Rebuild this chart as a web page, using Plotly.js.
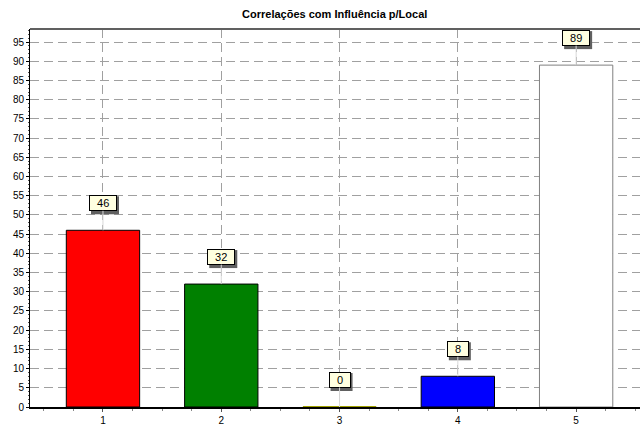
<!DOCTYPE html>
<html><head><meta charset="utf-8">
<script src="https://cdn.plot.ly/plotly-3.0.1.min.js"></script>
<style>html,body{margin:0;padding:0;background:#fff}#chart{width:640px;height:426px}</style>
</head><body><div id="chart"></div>
<script>
const categories = [1, 2, 3, 4, 5];
const values = [46, 32, 0, 8, 89];
const barColors = ['#ff0000', '#008000', '#a0a000', '#0000ff', '#ffffff'];
const barLineColors = ['#000000', '#000000', '#a0a000', '#000000', '#808080'];
const yTicks = [0,5,10,15,20,25,30,35,40,45,50,55,60,65,70,75,80,85,90,95];

const trace = {
  type: 'bar', x: categories, y: values, width: 0.62,
  marker: {color: barColors, line: {color: barLineColors, width: values.map(v => v === 0 ? 2 : 1)}},
  hoverinfo: 'none'
};

const LIFT = 27;
const labelFont = {family: 'Liberation Sans, Arial', size: 11, color: '#000'};
const labels = categories.map((c, i) => ({
  x: c, y: values[i], xref: 'x', yref: 'y', text: '&nbsp;&nbsp;' + values[i] + '&nbsp;&nbsp;',
  showarrow: true, arrowhead: 0, arrowcolor: '#d8d8d8', arrowwidth: 1,
  ax: 0, ay: -LIFT, bgcolor: '#ffffe0', bordercolor: '#000000', borderwidth: 1, borderpad: 1,
  font: labelFont
}));
const shadows = categories.map((c, i) => {
  const w = 6 * String(values[i]).length + 16;
  return {type: 'rect', layer: 'above', xref: 'x', yref: 'y', xsizemode: 'pixel', ysizemode: 'pixel',
    xanchor: c, yanchor: values[i], x0: -w / 2 + 2, x1: w / 2 + 2, y0: LIFT - 9 - 2, y1: LIFT + 9 - 2,
    fillcolor: '#606060', line: {width: 0}};
});

const layout = {
  width: 640, height: 426,
  margin: {l: 30, r: 0, t: 29, b: 19},
  paper_bgcolor: '#fff', plot_bgcolor: '#fff',
  title: {text: '<b>Correlações com Influência p/Local</b>', x: 0.523, xanchor: 'center', y: 0.967, yanchor: 'middle',
    font: {family: 'Liberation Sans, Arial', size: 11, color: '#000'}},
  showlegend: false,
  bargap: 0,
  xaxis: {range: [0.383, 5.54], tickvals: categories, ticktext: categories.map(String),
    showgrid: true, gridcolor: '#a0a0a0', griddash: '9px,5px', gridwidth: 1,
    showline: true, linecolor: '#000', linewidth: 2, ticks: 'outside', ticklen: 3, tickcolor: '#555',
    minor: {dtick: 0.25, tick0: 0, ticks: 'outside', ticklen: 2, tickcolor: '#888', showgrid: false},
    tickfont: {family: 'Liberation Sans, Arial', size: 10, color: '#000'}, zeroline: false, fixedrange: true},
  yaxis: {range: [0, 98.4], tickvals: yTicks, ticktext: yTicks.map(String),
    showgrid: true, gridcolor: '#a0a0a0', griddash: '9px,5px', gridwidth: 1,
    showline: true, linecolor: '#000', linewidth: 1, ticks: 'outside', ticklen: 3, tickcolor: '#000',
    minor: {dtick: 1, ticks: 'outside', ticklen: 1, tickcolor: '#555', showgrid: false},
    tickfont: {family: 'Liberation Sans, Arial', size: 10, color: '#000'}, zeroline: false, fixedrange: true},
  shapes: [{type: 'line', xref: 'paper', yref: 'paper', x0: 0, x1: 1, y0: 1, y1: 1, line: {color: '#606060', width: 2}}].concat(shadows),
  annotations: labels
};
Plotly.newPlot('chart', [trace], layout, {displayModeBar: false, staticPlot: true});
</script></body></html>
